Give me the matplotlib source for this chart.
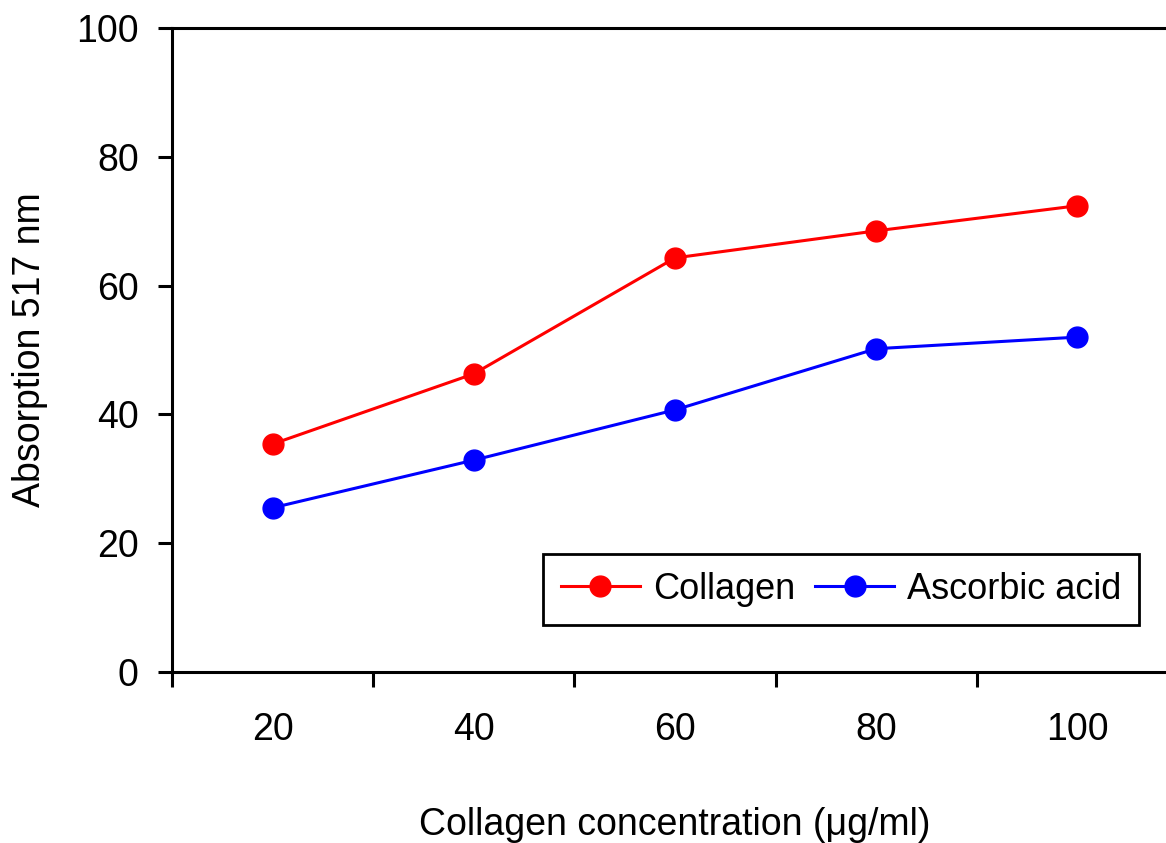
#!/usr/bin/env python3
"""Collagen vs ascorbic acid absorption chart."""

import matplotlib
matplotlib.use("Agg")
import matplotlib.pyplot as plt
import numpy as np

CONCENTRATIONS = ["20", "40", "60", "80", "100"]
COLLAGEN = np.array([35.4, 46.3, 64.3, 68.5, 72.4])
ASCORBIC = np.array([25.5, 32.9, 40.7, 50.2, 52.0])
Y_TICKS = [0, 20, 40, 60, 80, 100]


def main():
    plt.rcParams["font.family"] = ["Liberation Sans", "DejaVu Sans"]
    fs = 27
    fig = plt.figure(figsize=(11.66, 8.43), dpi=100)
    ax = fig.add_axes([172 / 1166, (843 - 672) / 843,
                       (1178 - 172) / 1166, (672 - 28) / 843])

    x = np.arange(len(CONCENTRATIONS))
    ax.plot(x, COLLAGEN, "-o", color="#ff0000", linewidth=2.2,
            markersize=15, label="Collagen", clip_on=False)
    ax.plot(x, ASCORBIC, "-o", color="#0000ff", linewidth=2.2,
            markersize=15, label="Ascorbic acid", clip_on=False)

    ax.set_xlim(-0.5, len(CONCENTRATIONS) - 0.5)
    ax.set_ylim(0, 100)
    ax.set_yticks(Y_TICKS)

    # category boundaries carry the tick marks, centres carry the labels
    ax.set_xticks(np.arange(len(CONCENTRATIONS) + 1) - 0.5)
    ax.set_xticklabels([])
    ax.set_xticks(x, minor=True)
    ax.set_xticklabels(CONCENTRATIONS, minor=True)
    ax.tick_params(axis="x", which="major", direction="out", length=11,
                   width=2.2)
    ax.tick_params(axis="x", which="minor", length=0, pad=29, labelsize=fs)
    ax.tick_params(axis="y", direction="out", length=10, width=2.2,
                   pad=14, labelsize=fs)

    for side in ("left", "bottom", "top"):
        ax.spines[side].set_linewidth(2.2)
    ax.spines["right"].set_visible(False)

    ax.set_ylabel("Absorption 517 nm", fontsize=fs, labelpad=20)
    ax.set_xlabel("Collagen concentration (μg/ml)", fontsize=fs, labelpad=42)

    leg = ax.legend(loc="center", bbox_to_anchor=(0.366, 0.076, 0.598, 0.104),
                    ncol=2, fontsize=26, frameon=True, fancybox=False,
                    edgecolor="black", framealpha=1, handlelength=2.2,
                    handletextpad=0.35, columnspacing=0.55, borderpad=0.5,
                    borderaxespad=0)
    leg.get_frame().set_linewidth(2.0)

    fig.savefig("out.png", dpi=100)
    plt.close(fig)


if __name__ == "__main__":
    main()
